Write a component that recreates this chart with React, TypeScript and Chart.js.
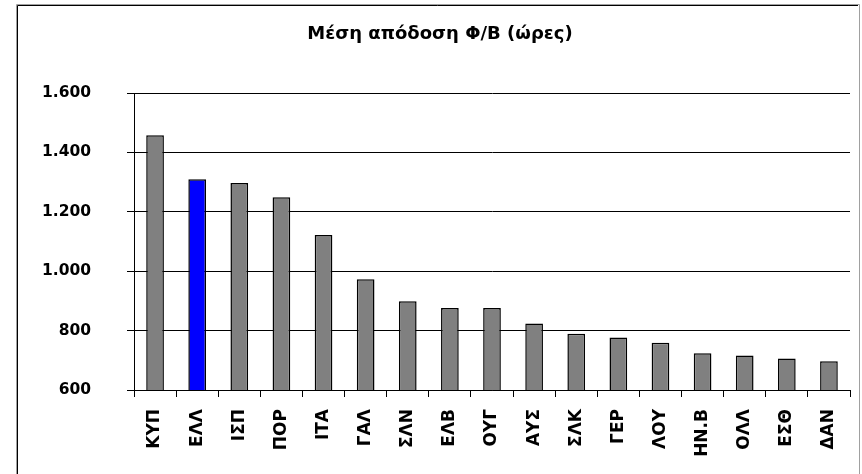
import React, { useEffect, useRef } from "react";
import { Chart, registerables } from "chart.js";

Chart.register(...registerables);

const categories = ["ΚΥΠ", "ΕΛΛ", "ΙΣΠ", "ΠΟΡ", "ΙΤΑ", "ΓΑΛ", "ΣΛΝ", "ΕΛΒ", "ΟΥΓ", "ΑΥΣ", "ΣΛΚ", "ΓΕΡ", "ΛΟΥ", "ΗΝ.Β", "ΟΛΛ", "ΕΣΘ", "ΔΑΝ"];
const values = [1458, 1310, 1297, 1249, 1122, 973, 899, 876, 876, 824, 789, 777, 759, 724, 716, 706, 697];
const highlight = "ΕΛΛ";
const yTicks = [600, 800, 1000, 1200, 1400, 1600];
const titleText = "Μέση απόδοση Φ/Β (ώρες)";

const FONT = "'DejaVu Sans', sans-serif";

const framePlugin = {
  id: "frame",
  beforeDraw(chart: any) {
    const { ctx, width, height } = chart;
    ctx.save();
    ctx.fillStyle = "#ffffff";
    ctx.fillRect(0, 0, width, height);
    ctx.lineWidth = 1;
    ctx.strokeStyle = "#a0a0a0";
    ctx.beginPath();
    ctx.moveTo(16.5, height);
    ctx.lineTo(16.5, 4.5);
    ctx.lineTo(859.5, 4.5);
    ctx.lineTo(859.5, height);
    ctx.stroke();
    ctx.strokeStyle = "#000000";
    ctx.beginPath();
    ctx.moveTo(17.5, height);
    ctx.lineTo(17.5, 5.5);
    ctx.lineTo(858, 5.5);
    ctx.stroke();
    ctx.fillStyle = "#000000";
    ctx.font = `bold 18px ${FONT}`;
    ctx.textAlign = "center";
    ctx.textBaseline = "middle";
    ctx.fillText(titleText, 440, 34);
    ctx.restore();
  },
};

export default function App() {
  const ref = useRef<HTMLCanvasElement | null>(null);
  useEffect(() => {
    if (!ref.current) return;
    const chart = new Chart(ref.current, {
      type: "bar",
      data: {
        labels: categories,
        datasets: [
          {
            data: values,
            backgroundColor: categories.map((c) => (c === highlight ? "#0000FF" : "#808080")),
            borderColor: "#000000",
            borderWidth: 1.5,
            borderSkipped: false,
            barPercentage: 0.42,
            categoryPercentage: 1,
          },
        ],
      },
      options: {
        responsive: false,
        animation: false,
        layout: { padding: { left: 0, top: 93, right: 12, bottom: 0 } },
        plugins: { legend: { display: false }, title: { display: false }, tooltip: { enabled: false } },
        scales: {
          x: {
            offset: true,
            grid: { display: true, drawOnChartArea: false, drawTicks: true, tickLength: 7, color: "#000000", offset: true },
            border: { display: true, color: "#000000", width: 1 },
            ticks: {
              minRotation: 90,
              maxRotation: 90,
              autoSkip: false,
              padding: 12,
              color: "#000000",
              font: { family: FONT, size: 17, weight: "bold" },
            },
            afterFit(scale: any) {
              scale.height = 84;
            },
          },
          y: {
            min: 600,
            max: 1600,
            afterBuildTicks(scale: any) {
              scale.ticks = yTicks.map((v) => ({ value: v }));
            },
            grid: { color: "#000000", lineWidth: 1, drawTicks: true, tickLength: 7 },
            border: { display: true, color: "#000000", width: 1 },
            ticks: {
              padding: 36,
              color: "#000000",
              font: { family: FONT, size: 15.5, weight: "bold" },
              callback: (v: any) => Number(v).toString().replace(/\B(?=(\d{3})+(?!\d))/g, "."),
            },
            afterFit(scale: any) {
              scale.width = 134;
            },
          },
        },
      },
      plugins: [framePlugin],
    });
    return () => chart.destroy();
  }, []);
  return (
    <div style={{ position: "absolute", left: 0, top: 0, width: 862, height: 474 }}>
      <canvas ref={ref} width={862} height={474} style={{ display: "block" }} />
    </div>
  );
}
